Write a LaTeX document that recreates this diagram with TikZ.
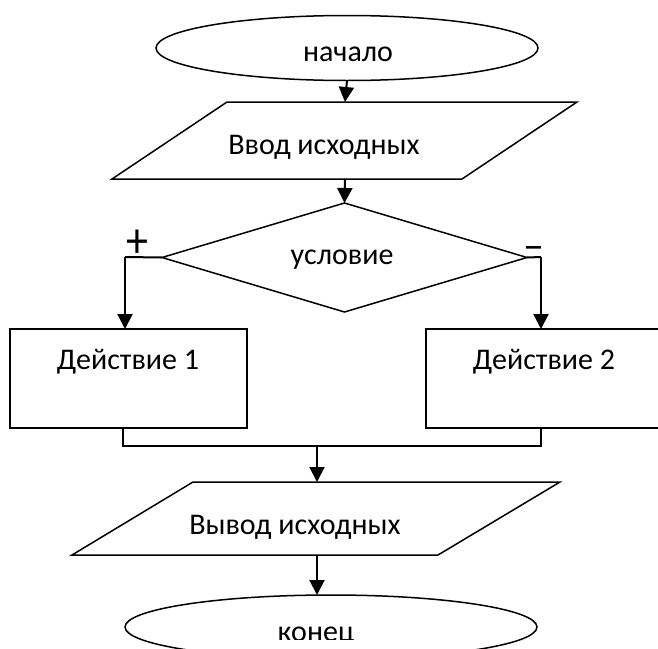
\documentclass[tikz,border=0pt]{standalone}
\usepackage{fontspec}
\setmainfont{Carlito}
\usetikzlibrary{shapes.geometric,arrows.meta}
\begin{document}
\begin{tikzpicture}[x=1pt,y=-1pt,
  outline/.style={draw=black, line width=1.5pt, outer sep=0pt, inner sep=0pt},
  flow/.style={draw=black, line width=2pt, -{Triangle[width=15pt,length=15pt]}},
  plainline/.style={draw=black, line width=2pt},
  joinline/.style={draw=black, line width=1.2pt},
  lbl/.style={font=\fontsize{30}{34}\selectfont, inner sep=0pt},
  sign/.style={inner sep=0pt},
]
\useasboundingbox (0,0) rectangle (658,648);

% start
\node[outline, ellipse, minimum width=382pt, minimum height=65pt] (start) at (347,48) {};
\node[lbl] (startt) at (348,54) {начало};

% input parallelogram
\coordinate (inTop) at (345,102);
\coordinate (inBot) at (345,179);
\draw[outline] (227,102) -- (577,102) -- (462,179) -- (112,179) -- cycle;
\node[lbl] (inp) at (324,147) {Ввод исходных};

% condition
\node[outline, diamond, minimum width=365pt, minimum height=109pt] (cond) at (344.5,257.5) {};
\node[lbl] (condt) at (342,260) {условие};

% actions
\node[outline, rectangle, minimum width=237pt, minimum height=99pt] (act1) at (128.5,378.5) {};
\node[lbl] (act1t) at (128,362) {Действие 1};
\node[outline, rectangle, minimum width=234pt, minimum height=99pt] (act2) at (543,378.5) {};
\node[lbl] (act2t) at (544,362) {Действие 2};

% output parallelogram
\coordinate (outTop) at (317,482);
\coordinate (outBot) at (317,555);
\draw[outline] (193,482) -- (560,482) -- (438,555) -- (72,555) -- cycle;
\node[lbl] (outp) at (295,527) {Вывод исходных};

% end
\node[outline, ellipse, minimum width=412pt, minimum height=64pt] (stop) at (331,627) {};
\begin{scope}
  \clip (200,600) rectangle (440,639);
  \node[lbl, anchor=base] (stopt) at (316,641) {конец};
\end{scope}

% branch corners and signs
\coordinate (lc) at (125,257);
\coordinate (rc) at (541,257);
\node[sign, font=\fontsize{40}{40}\selectfont] (plus) at (137,244) {\scalebox{1.1}[1.25]{+}};
\node[sign, font=\fontsize{42}{42}\selectfont, anchor=base] (minus) at (534,259) {–};

% connectors
\draw[flow] (start.south) -- (inTop);
\draw[flow] (inBot) -- (cond.north);
\draw[plainline] (cond.west) -- (lc);
\draw[flow] (lc) -- (lc |- act1.north);
\draw[plainline] (cond.east) -- (rc);
\draw[flow] (rc) -- (rc |- act2.north);

\coordinate (jl) at (123,446);
\coordinate (jr) at (541,446);
\coordinate (jm) at (317,446);
\draw[joinline] (jl |- act1.south) -- (jl) -- (jr) -- (541,428);
\draw[flow] (jm) -- (outTop);
\draw[flow] (outBot) -- (outBot |- stop.north);
\end{tikzpicture}
\end{document}
